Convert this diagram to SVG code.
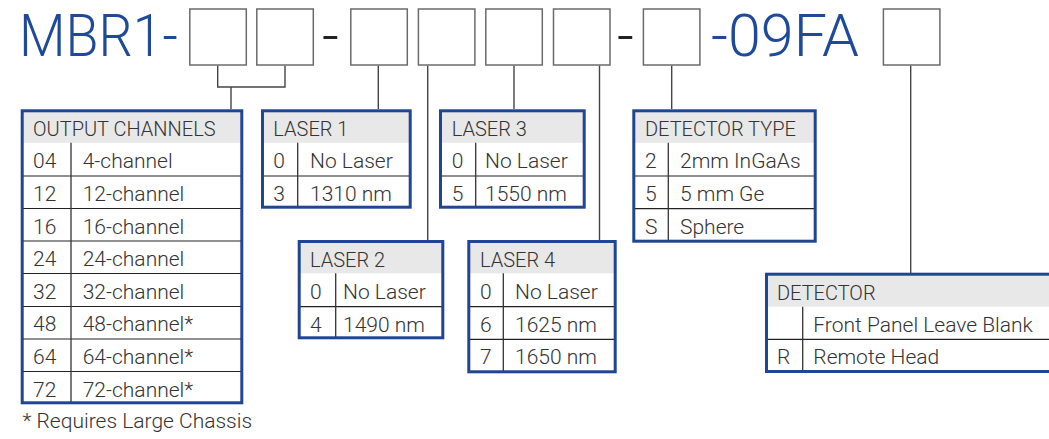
<svg xmlns="http://www.w3.org/2000/svg" width="1049" height="439" viewBox="0 0 1049 439">
<style>
  .t{font-family:Roboto,"Liberation Sans",sans-serif;font-weight:300;font-size:21px;fill:#333}
  .h{font-family:Roboto,"Liberation Sans",sans-serif;font-weight:300;font-size:20px;fill:#333}
  .title{font-family:Roboto,"Liberation Sans",sans-serif;font-weight:300;font-size:59px;fill:#1f4a9a}
  .dash{font-family:Roboto,"Liberation Sans",sans-serif;font-weight:300;font-size:59px;fill:#222}
  .box{fill:#fff;stroke:#6b6b6b;stroke-width:1.5}
  .conn{fill:none;stroke:#444;stroke-width:1.4}
  .hdr{fill:#e8e8e8}
  .body{fill:#fff}
  .row{stroke:#222;stroke-width:1.2}
  .col{stroke:#333;stroke-width:1.3}
  .frame{fill:none;stroke:#1f4593;stroke-width:3}
</style>
<rect width="1049" height="439" fill="#fff"/>

<g id="title">
  <text class="title" x="19" y="56" textLength="159" lengthAdjust="spacingAndGlyphs">MBR1-</text>
  <text class="dash" x="322" y="56">-</text>
  <text class="dash" x="617" y="56">-</text>
  <text class="title" x="711" y="56" textLength="148" lengthAdjust="spacingAndGlyphs">-09FA</text>
  <rect class="box" x="189.8" y="9" width="56.5" height="56"/>
  <rect class="box" x="256.8" y="9" width="56.5" height="56"/>
  <rect class="box" x="350.8" y="9" width="56.5" height="56"/>
  <rect class="box" x="418.4" y="9" width="56.5" height="56"/>
  <rect class="box" x="485.8" y="9" width="56.5" height="56"/>
  <rect class="box" x="553.5" y="9" width="56.5" height="56"/>
  <rect class="box" x="643.4" y="9" width="56.5" height="56"/>
  <rect class="box" x="883.4" y="9" width="56.5" height="56"/>
</g>

<g id="connectors">
  <path class="conn" d="M217.7 65.7V87H285V65.7M231 87V109"/>
  <path class="conn" d="M378.3 65.7V109"/>
  <path class="conn" d="M427.7 65.7V240"/>
  <path class="conn" d="M514 65.7V109"/>
  <path class="conn" d="M599.5 65.7V240"/>
  <path class="conn" d="M671.7 65.7V109"/>
  <path class="conn" d="M910.7 65.7V273"/>
</g>

<g id="output-channels">
  <rect class="body" x="22" y="110.8" width="220" height="292"/>
  <rect class="hdr" x="22" y="110.8" width="220" height="32"/>
  <path class="row" d="M22 176H242M22 208.5H242M22 241H242M22 273.5H242M22 306.5H242M22 339H242M22 371.5H242"/>
  <path class="col" d="M71 142.7V402.8"/>
  <rect class="frame" x="22.2" y="110.8" width="219.6" height="292"/>
  <text class="h" x="33" y="136">OUTPUT CHANNELS</text>
  <text class="t" x="33" y="168.3">04</text><text class="t" x="82.7" y="168.3">4-channel</text>
  <text class="t" x="33" y="201">12</text><text class="t" x="82.7" y="201">12-channel</text>
  <text class="t" x="33" y="233.5">16</text><text class="t" x="82.7" y="233.5">16-channel</text>
  <text class="t" x="33" y="266">24</text><text class="t" x="82.7" y="266">24-channel</text>
  <text class="t" x="33" y="298.7">32</text><text class="t" x="82.7" y="298.7">32-channel</text>
  <text class="t" x="33" y="331.3">48</text><text class="t" x="82.7" y="331.3">48-channel*</text>
  <text class="t" x="33" y="364">64</text><text class="t" x="82.7" y="364">64-channel*</text>
  <text class="t" x="33" y="396.5">72</text><text class="t" x="82.7" y="396.5">72-channel*</text>
</g>
<text class="t" x="22.5" y="428">* Requires Large Chassis</text>

<g id="laser1">
  <rect class="body" x="262.5" y="110.8" width="147.7" height="96.4"/>
  <rect class="hdr" x="262.5" y="110.8" width="147.7" height="32"/>
  <path class="row" d="M262.5 176H410.2"/>
  <path class="col" d="M297.7 142.7V207.2"/>
  <rect class="frame" x="262.5" y="110.8" width="147.7" height="96.4"/>
  <text class="h" x="273.3" y="136">LASER 1</text>
  <text class="t" x="273.3" y="168.3">0</text><text class="t" x="310" y="168.3">No Laser</text>
  <text class="t" x="273.3" y="201">3</text><text class="t" x="310" y="201">1310 nm</text>
</g>

<g id="laser3">
  <rect class="body" x="440.5" y="110.8" width="143.7" height="96.4"/>
  <rect class="hdr" x="440.5" y="110.8" width="143.7" height="32"/>
  <path class="row" d="M440.5 176H584.2"/>
  <path class="col" d="M475.7 142.7V207.2"/>
  <rect class="frame" x="440.5" y="110.8" width="143.7" height="96.4"/>
  <text class="h" x="451.7" y="136">LASER 3</text>
  <text class="t" x="451.7" y="168.3">0</text><text class="t" x="485" y="168.3">No Laser</text>
  <text class="t" x="451.7" y="201">5</text><text class="t" x="485" y="201">1550 nm</text>
</g>

<g id="detector-type">
  <rect class="body" x="633.8" y="110.8" width="181.4" height="130.4"/>
  <rect class="hdr" x="633.8" y="110.8" width="181.4" height="32"/>
  <path class="row" d="M633.8 176H815.2M633.8 208.7H815.2"/>
  <path class="col" d="M668.3 142.7V241.2"/>
  <rect class="frame" x="633.8" y="110.8" width="181.4" height="130.4"/>
  <text class="h" x="645" y="136">DETECTOR TYPE</text>
  <text class="t" x="645" y="168.3">2</text><text class="t" x="680" y="168.3">2mm InGaAs</text>
  <text class="t" x="645" y="201">5</text><text class="t" x="680" y="201">5 mm Ge</text>
  <text class="t" x="645" y="233.5">S</text><text class="t" x="680" y="233.5">Sphere</text>
</g>

<g id="laser2">
  <rect class="body" x="299.2" y="241.5" width="143.6" height="96.3"/>
  <rect class="hdr" x="299.2" y="241.5" width="143.6" height="31.8"/>
  <path class="row" d="M299.2 306.7H442.8"/>
  <path class="col" d="M335.7 273.3V337.8"/>
  <rect class="frame" x="299.2" y="241.5" width="143.6" height="96.3"/>
  <text class="h" x="310" y="266.7">LASER 2</text>
  <text class="t" x="310" y="299">0</text><text class="t" x="343" y="299">No Laser</text>
  <text class="t" x="310" y="331.7">4</text><text class="t" x="343" y="331.7">1490 nm</text>
</g>

<g id="laser4">
  <rect class="body" x="468.8" y="241.5" width="146.4" height="130.3"/>
  <rect class="hdr" x="468.8" y="241.5" width="146.4" height="31.8"/>
  <path class="row" d="M468.8 306.7H615.2M468.8 339.3H615.2"/>
  <path class="col" d="M503.3 273.3V371.8"/>
  <rect class="frame" x="468.8" y="241.5" width="146.4" height="130.3"/>
  <text class="h" x="480" y="266.7">LASER 4</text>
  <text class="t" x="480" y="299">0</text><text class="t" x="515" y="299">No Laser</text>
  <text class="t" x="480" y="331.7">6</text><text class="t" x="515" y="331.7">1625 nm</text>
  <text class="t" x="480" y="364.3">7</text><text class="t" x="515" y="364.3">1650 nm</text>
</g>

<g id="detector">
  <rect class="body" x="766.5" y="274.2" width="300" height="97.3"/>
  <rect class="hdr" x="766.5" y="274.2" width="300" height="32.5"/>
  <path class="row" d="M766.5 339.3H1066"/>
  <path class="col" d="M802.7 306.7V371.5"/>
  <rect class="frame" x="766.5" y="274.2" width="300" height="97.3"/>
  <text class="h" x="777" y="299.5">DETECTOR</text>
  <text class="t" x="813.3" y="331.7">Front Panel Leave Blank</text>
  <text class="t" x="777" y="364.3">R</text><text class="t" x="813.3" y="364.3">Remote Head</text>
</g>
</svg>
